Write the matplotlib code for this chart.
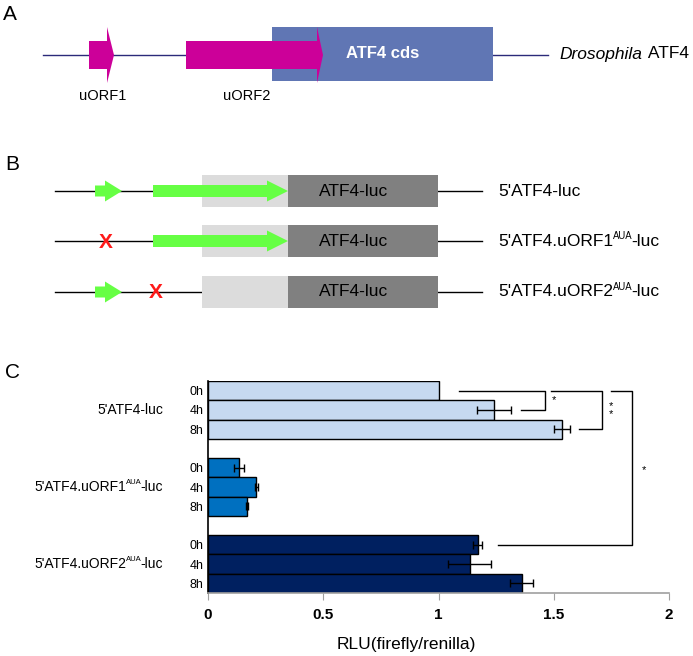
import matplotlib
matplotlib.use("Agg")
from matplotlib import pyplot as plt
from matplotlib.patches import Polygon, Rectangle

plt.rcParams["font.family"] = ["Liberation Sans", "DejaVu Sans"]

# ---- panel C data ----
# construct names as (base, superscript, tail)
constructs = [("5'ATF4-luc", "", ""), ("5'ATF4.uORF1", "AUA", "-luc"), ("5'ATF4.uORF2", "AUA", "-luc")]
hours = ["0h", "4h", "8h"]
rlu_atf4 = [1.00, 1.24, 1.536]
err_atf4 = [0.0, 0.074, 0.035]
rlu_uorf1 = [0.134, 0.21, 0.168]
err_uorf1 = [0.022, 0.008, 0.005]
rlu_uorf2 = [1.17, 1.136, 1.362]
err_uorf2 = [0.02, 0.093, 0.05]
colors = ["#c6d9f0", "#0070c0", "#002060"]
xticks = [0, 0.5, 1, 1.5, 2]
xtick_labels = ["0", "0.5", "1", "1.5", "2"]
# significance brackets: (bar a, bar b, x start a, x vertical, x start b, label, label x, label y)
brackets = [
    (0, 1, 1.09, 1.46, 1.36, "*", 1.50, 0.5),
    (0, 2, 1.49, 1.71, 1.61, "*\n*", 1.75, 1.0),
    (0, 8, 1.75, 1.84, 1.26, "*", 1.89, 4.1),
]

fig = plt.figure(figsize=(6.93, 6.56), dpi=100)
renderer = fig.canvas.get_renderer()

# ---- schematic panels A and B (pixel space overlay) ----
ov = fig.add_axes([0, 0, 1, 1])
ov.set_xlim(0, 693)
ov.set_ylim(656, 0)
ov.axis("off")


def arrow(ax, x0, tip, y, body_half, head_half, head_len, color, z=3):
    hb = tip - head_len
    pts = [(x0, y - body_half), (hb, y - body_half), (hb, y - head_half), (tip, y),
           (hb, y + head_half), (hb, y + body_half), (x0, y + body_half)]
    ax.add_patch(Polygon(pts, closed=True, color=color, lw=0, zorder=z))


def run_text(x, y, items, ha="left"):
    # items: (string, fontsize, dy, style, trim)
    objs, widths = [], []
    for s, f, dy, style, trim in items:
        if not s:
            continue
        t = ov.text(0, y + dy, s, fontsize=f, style=style, ha="left", va="center")
        objs.append(t)
        widths.append(t.get_window_extent(renderer).width - trim)
    x0 = x - sum(widths) if ha == "right" else x
    for t, w in zip(objs, widths):
        t.set_x(x0)
        x0 += w


def sup_text(x, y, parts, fs, ha="left"):
    base, sup, tail = parts
    run_text(x, y, [(base, fs, 0, "normal", 0),
                    (sup, fs * 0.55, -fs * 0.42, "normal", 1.5),
                    (tail, fs, 0, "normal", 0)], ha)


# panel A
ov.text(3, 15, "A", fontsize=15, va="center", ha="left")
ov.plot([43, 548], [55, 55], color="#2b2a7a", lw=1, zorder=1)
ov.add_patch(Rectangle((272, 27), 221, 54, color="#6076b4", lw=0, zorder=2))
arrow(ov, 89, 114, 55, 14, 28, 7, "#cc0099")
arrow(ov, 186, 323, 55, 14, 28, 6, "#cc0099")
ov.text(383, 53, "ATF4 cds", color="white", fontsize=12, fontweight="bold", ha="center", va="center", zorder=4)
run_text(559, 54, [("Drosophila", 12.5, 0, "italic", -2), (" ATF4", 12.5, 0, "normal", 0)])
ov.text(103, 96, "uORF1", fontsize=10.5, ha="center", va="center")
ov.text(247, 96, "uORF2", fontsize=10.5, ha="center", va="center")

# panel B
ov.text(5, 165, "B", fontsize=15, va="center", ha="left")
row_y = [191, 241, 292]
for i, y in enumerate(row_y):
    ov.plot([55, 482], [y, y], color="black", lw=1, zorder=1)
    ov.add_patch(Rectangle((202, y - 16), 86, 32, color="#dcdcdc", lw=0, zorder=2))
    ov.add_patch(Rectangle((288, y - 16), 150, 32, color="#808080", lw=0, zorder=2))
    ov.text(354, y, "ATF4-luc", fontsize=12.5, ha="center", va="center", zorder=4)
    sup_text(498, y, constructs[i], 12.5)
    if i != 1:
        arrow(ov, 95, 122, y, 5.5, 10.5, 17, "#66ff44")
    else:
        ov.text(106, y + 1, "X", color="#ff1a1a", fontsize=15, fontweight="bold", ha="center", va="center", zorder=4)
    if i != 2:
        arrow(ov, 153, 288, y, 6, 10.5, 21, "#66ff44")
    else:
        ov.text(156, y + 1, "X", color="#ff1a1a", fontsize=15, fontweight="bold", ha="center", va="center", zorder=4)

# ---- panel C bar chart ----
ov.text(5, 373, "C", fontsize=15, va="center", ha="left")
ax = fig.add_axes([208 / 693, 63 / 656, 461 / 693, 212 / 656])
groups = [(rlu_atf4, err_atf4), (rlu_uorf1, err_uorf1), (rlu_uorf2, err_uorf2)]
ypos, ylabels = [], []
for g, (vals, errs) in enumerate(groups):
    ys = [g * 4 + k for k in range(3)]
    ax.barh(ys, vals, height=1.0, color=colors[g], edgecolor="black", linewidth=1, zorder=2)
    for y, v, e in zip(ys, vals, errs):
        if e > 0:
            ax.errorbar(v, y, xerr=e, color="black", lw=1, capsize=3, capthick=1, zorder=3)
    ypos += ys
    ylabels += hours

for a, b, xa, xv, xb, lab, lx, ly in brackets:
    ax.plot([xa, xv, xv, xb], [a, a, b, b], color="black", lw=1, zorder=3, clip_on=False)
    ax.text(lx, ly, lab, fontsize=8, ha="center", va="center", linespacing=0.8)

ax.set_xlim(0, 2)
ax.set_ylim(10.5, -0.5)
ax.set_yticks(ypos)
ax.set_yticklabels(ylabels, fontsize=9)
ax.tick_params(axis="y", length=0, pad=3)
ax.set_xticks(xticks)
ax.set_xticklabels(xtick_labels, fontsize=11, fontweight="bold")
ax.tick_params(axis="x", direction="out", length=5, color="#a0a0a0", pad=6)
for s in ["top", "right"]:
    ax.spines[s].set_visible(False)
ax.spines["bottom"].set_color("#a0a0a0")
ax.spines["bottom"].set_linewidth(1.2)
ax.spines["left"].set_color("black")
ax.spines["left"].set_linewidth(1.2)

# construct labels to the left of each group, placed via the axes transform
for g in range(3):
    px, py = ax.transData.transform((-0.195, g * 4 + 1))
    sup_text(px, 656 - py, constructs[g], 10, ha="right")

fig.text(406 / 693, 1 - 645 / 656, "RLU(firefly/renilla)", fontsize=12.5, ha="center", va="center")

fig.savefig("out.png", dpi=100)
